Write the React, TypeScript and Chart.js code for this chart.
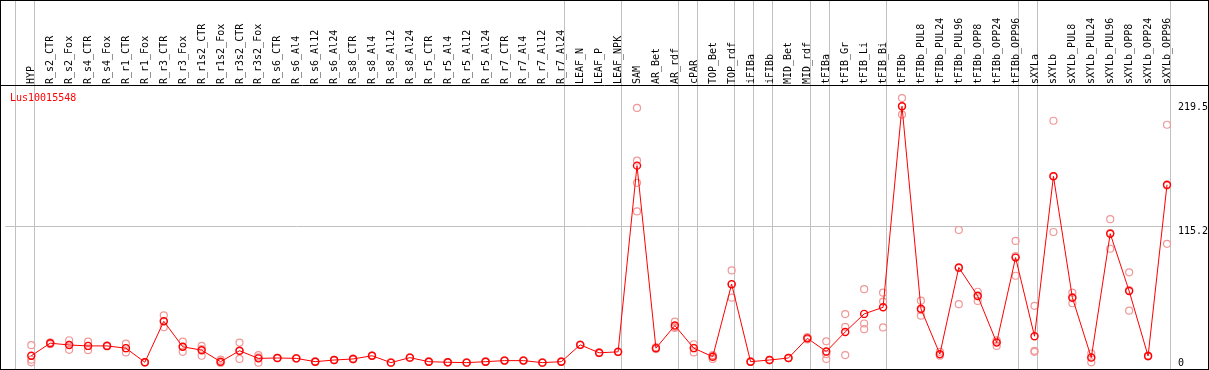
import React, { useEffect, useRef } from "react";
import { Chart, registerables } from "chart.js";

Chart.register(...registerables);

const geneId = "Lus10015548";

const categories = [
  "HYP", "R_s2_CTR", "R_s2_Fox", "R_s4_CTR", "R_s4_Fox", "R_r1_CTR", "R_r1_Fox", "R_r3_CTR", "R_r3_Fox",
  "R_r1s2_CTR", "R_r1s2_Fox", "R_r3s2_CTR", "R_r3s2_Fox", "R_s6_CTR", "R_s6_Al4", "R_s6_Al12", "R_s6_Al24",
  "R_s8_CTR", "R_s8_Al4", "R_s8_Al12", "R_s8_Al24", "R_r5_CTR", "R_r5_Al4", "R_r5_Al12", "R_r5_Al24",
  "R_r7_CTR", "R_r7_Al4", "R_r7_Al12", "R_r7_Al24", "LEAF_N", "LEAF_P", "LEAF_NPK", "SAM", "AR_Bet", "AR_rdf",
  "cPAR", "TOP_Bet", "TOP_rdf", "iFIBa", "iFIBb", "MID_Bet", "MID_rdf", "tFIBa", "tFIB_Gr", "tFIB_Li", "tFIB_Bi",
  "tFIBb", "tFIBb_PUL8", "tFIBb_PUL24", "tFIBb_PUL96", "tFIBb_OPP8", "tFIBb_OPP24", "tFIBb_OPP96", "sXYLa",
  "sXYLb", "sXYLb_PUL8", "sXYLb_PUL24", "sXYLb_PUL96", "sXYLb_OPP8", "sXYLb_OPP24", "sXYLb_OPP96",
];

const meanValues = [
  5.8, 16.4, 14.9, 14.1, 14.1, 12.2, 0.3, 34.9, 13.4,
  10.5, 0.8, 10.0, 3.6, 3.9, 3.6, 0.8, 2.2,
  3.1, 5.8, 0.0, 4.2, 0.8, 0.3, 0.0, 0.8,
  1.7, 1.7, 0.0, 0.8, 15.0, 8.3, 9.1, 166.2, 12.2, 31.3,
  12.2, 5.0, 66.2, 0.8, 2.2, 3.9, 20.5, 9.4, 25.9, 41.1, 46.7,
  216.3, 45.4, 7.2, 80.3, 56.2, 16.9, 88.6, 22.3,
  157.2, 54.8, 4.2, 108.8, 60.4, 5.6, 150.1,
];

const rep1 = [
  14.7, 17.2, 18.9, 17.7, 14.5, 16.0, 0.3, 39.9, 17.7,
  14.1, 2.5, 16.9, 6.4, 4.1, 3.8, 1.0, 2.4,
  3.3, 6.0, 0.2, 4.4, 1.0, 0.5, 0.2, 1.0,
  1.9, 1.9, 0.2, 1.0, 15.3, 8.6, 9.4, 214.9, 13.0, 34.6,
  15.5, 6.4, 77.8, 1.0, 2.4, 4.1, 21.5, 18.0, 41.0, 62.0, 59.0,
  223.2, 52.3, 9.1, 111.9, 59.8, 18.9, 102.7, 47.9,
  204.1, 59.0, 7.7, 121.0, 76.2, 6.0, 200.7,
];

const rep2 = [
  0.3, 15.6, 15.0, 14.1, 13.7, 12.2, 0.2, 34.9, 13.3,
  11.5, 0.0, 10.0, 4.4, 3.9, 3.6, 0.8, 2.2,
  3.1, 5.8, 0.0, 4.2, 0.8, 0.3, 0.0, 0.8,
  1.7, 1.7, 0.0, 0.8, 15.0, 8.3, 9.1, 170.5, 11.4, 30.0,
  12.5, 5.5, 66.0, 0.8, 2.2, 3.9, 20.5, 7.1, 30.2, 33.0, 51.5,
  216.3, 44.3, 6.7, 79.7, 56.7, 17.7, 89.8, 10.0,
  157.3, 55.3, 4.6, 109.3, 61.2, 5.6, 149.4,
];

const rep3 = [
  2.5, 16.4, 10.8, 10.5, 14.1, 8.6, 0.4, 29.9, 9.1,
  5.8, 0.0, 3.1, 0.0, 3.7, 3.4, 0.6, 2.0,
  2.9, 5.6, 0.0, 4.0, 0.6, 0.1, 0.0, 0.6,
  1.5, 1.5, 0.0, 0.6, 14.7, 8.0, 8.8, 151.7, 12.2, 29.3,
  8.6, 3.1, 54.8, 0.6, 2.0, 3.7, 19.5, 3.1, 6.4, 28.2, 29.7,
  209.3, 39.6, 5.8, 49.3, 52.1, 14.1, 73.3, 9.1,
  110.2, 50.1, 0.3, 96.1, 43.8, 5.2, 100.2,
];

const rep4 = categories.map((c) => (c === "SAM" ? 127.6 : null));

const yTickValues = [0, 115.2, 219.5];
const gridValues = [115.2];
// indices after which a group separator is drawn (-1 = before the first sample)
const groupBreaks = [-1, 0, 28, 31, 34, 35, 37, 38, 39, 41, 42, 45, 52, 53, 60];

const MONO = "10px 'DejaVu Sans Mono', monospace";

export default function App() {
  const canvasRef = useRef<HTMLCanvasElement | null>(null);

  useEffect(() => {
    const canvas = canvasRef.current;
    if (!canvas) return;

    const toPoints = (arr: (number | null)[]) =>
      arr
        .map((v, i) => (v === null || v === undefined ? null : { x: i, y: v }))
        .filter((p) => p !== null) as { x: number; y: number }[];

    const decor = {
      id: "decor",
      beforeDraw(chart: any) {
        const { ctx } = chart;
        ctx.save();
        ctx.fillStyle = "#ffffff";
        ctx.fillRect(0, 0, chart.width, chart.height);
        ctx.restore();
      },
      beforeDatasetsDraw(chart: any) {
        const { ctx, chartArea } = chart;
        const xs = chart.scales.x;
        const ys = chart.scales.y;
        ctx.save();
        ctx.strokeStyle = "#c0c0c0";
        ctx.lineWidth = 1;
        for (const g of gridValues) {
          const py = Math.floor(ys.getPixelForValue(g)) + 0.5;
          ctx.beginPath();
          ctx.moveTo(chartArea.left, py);
          ctx.lineTo(chartArea.right, py);
          ctx.stroke();
        }
        for (const b of groupBreaks) {
          const px = Math.floor(xs.getPixelForValue(b + 0.174)) + 0.5;
          ctx.beginPath();
          ctx.moveTo(px, 0);
          ctx.lineTo(px, chart.height);
          ctx.stroke();
        }
        ctx.restore();
      },
      afterDraw(chart: any) {
        const { ctx, chartArea } = chart;
        const xs = chart.scales.x;
        const ys = chart.scales.y;
        ctx.save();
        // frame
        ctx.strokeStyle = "#000000";
        ctx.lineWidth = 1;
        ctx.strokeRect(0.5, 0.5, chart.width - 1, chart.height - 1);
        ctx.beginPath();
        ctx.moveTo(0, chartArea.top - 0.5);
        ctx.lineTo(chart.width, chartArea.top - 0.5);
        ctx.stroke();

        // category labels (rotated)
        ctx.font = MONO;
        ctx.fillStyle = "#000000";
        ctx.textAlign = "left";
        ctx.textBaseline = "alphabetic";
        categories.forEach((name, i) => {
          const px = xs.getPixelForValue(i);
          ctx.save();
          ctx.translate(Math.round(px) + 2.5, chartArea.top - 2);
          ctx.rotate(-Math.PI / 2);
          ctx.fillText(name, 0, 0);
          ctx.restore();
        });

        // y tick labels on the right
        yTickValues.forEach((v) => {
          const py = ys.getPixelForValue(v);
          const base = Math.min(py + 8, chart.height - 4.5);
          ctx.fillText(String(v), chartArea.right + 8, base);
        });

        // title
        ctx.fillStyle = "#ff0000";
        ctx.fillText(geneId, 10, chartArea.top + 15);
        ctx.restore();
      },
    };

    const repStyle = {
      showLine: false,
      pointStyle: "circle",
      pointRadius: 3.5,
      pointBorderWidth: 1.2,
      pointBorderColor: "#f09898",
      pointBackgroundColor: "rgba(0,0,0,0)",
      borderColor: "#f09898",
      order: 2,
      clip: false,
    };

    const chart = new Chart(canvas, {
      type: "scatter",
      data: {
        datasets: [
          { label: "mean", data: toPoints(meanValues), showLine: true, borderColor: "#ff0000", borderWidth: 1,
            pointStyle: "circle", pointRadius: 3.5, pointBorderWidth: 1.4, pointBorderColor: "#ff0000",
            pointBackgroundColor: "rgba(0,0,0,0)", tension: 0, order: 0, clip: false } as any,
          { label: "rep1", data: toPoints(rep1), ...repStyle } as any,
          { label: "rep2", data: toPoints(rep2), ...repStyle } as any,
          { label: "rep3", data: toPoints(rep3), ...repStyle } as any,
          { label: "rep4", data: toPoints(rep4), ...repStyle } as any,
        ],
      },
      options: {
        animation: false,
        responsive: false,
        devicePixelRatio: 1,
        layout: { padding: { left: 1, right: 39, top: 86, bottom: 1 } },
        plugins: { legend: { display: false }, tooltip: { enabled: false } },
        scales: {
          x: { type: "linear", min: -1.368, max: 60.158, display: false },
          y: { type: "linear", min: -1.66, max: 233.4, display: false },
        },
      },
      plugins: [decor],
    });

    return () => chart.destroy();
  }, []);

  return (
    <div style={{ position: "absolute", left: 0, top: 0, width: 1209, height: 370 }}>
      <canvas ref={canvasRef} width={1209} height={370} style={{ display: "block" }} />
    </div>
  );
}
